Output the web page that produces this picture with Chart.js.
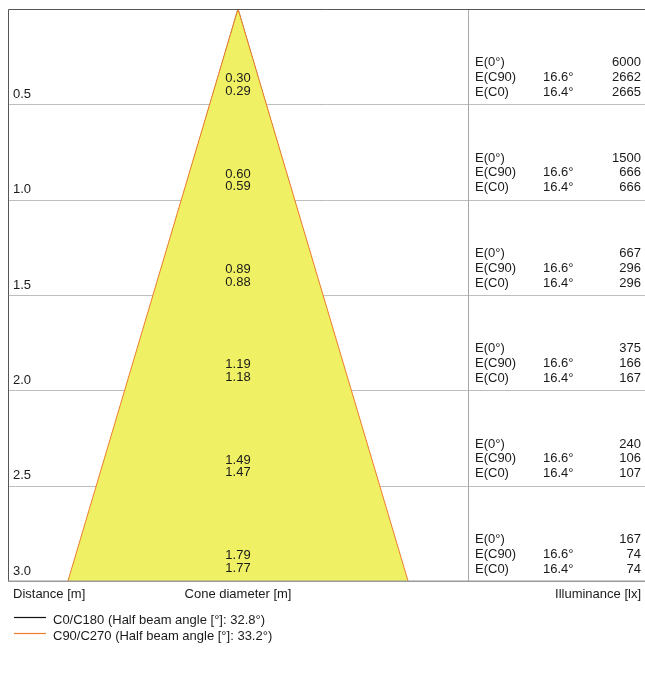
<!DOCTYPE html>
<html><head><meta charset="utf-8">
<script src="https://cdn.jsdelivr.net/npm/chart.js@4/dist/chart.umd.min.js"></script>
<style>html,body{margin:0;padding:0;background:#fff}canvas{display:block}</style>
</head><body>
<canvas id="c" width="645" height="677"></canvas>
<script>
const distances = [0.5, 1.0, 1.5, 2.0, 2.5, 3.0];
const diamC90 = ["0.30", "0.60", "0.89", "1.19", "1.49", "1.79"];
const diamC0 = ["0.29", "0.59", "0.88", "1.18", "1.47", "1.77"];
const e0 = ["6000", "1500", "667", "375", "240", "167"];
const eC90 = ["2662", "666", "296", "166", "106", "74"];
const eC0 = ["2665", "666", "296", "167", "107", "74"];
const angleC90 = "16.6°";
const angleC0 = "16.4°";
const maxDist = 3.0;
const halfC90 = 1.79 / 2;
const halfC0 = 1.77 / 2;
const legendLabels = ["C0/C180 (Half beam angle [°]: 32.8°)", "C90/C270 (Half beam angle [°]: 33.2°)"];

const FONT = '13px "Liberation Sans", Arial, sans-serif';
const YEL = '#eff064';
const ORANGE = '#ee7d2a';

const overlay = {
  id: 'overlay',
  beforeDatasetsDraw(chart) {
    const {ctx, scales: {x, y}} = chart;
    const L = x.getPixelForValue(x.min), R = x.getPixelForValue(x.max);
    const T = y.getPixelForValue(0), B = y.getPixelForValue(maxDist);
    const div = x.getPixelForValue(-x.min);
    ctx.save();
    ctx.lineWidth = 1;
    ctx.strokeStyle = '#bdbdbd';
    distances.forEach(d => {
      const py = Math.round(y.getPixelForValue(d)) + 0.5;
      ctx.beginPath(); ctx.moveTo(L, py); ctx.lineTo(R, py); ctx.stroke();
    });
    ctx.strokeStyle = '#a8a8a8';
    ctx.beginPath(); ctx.moveTo(Math.round(div)+0.5, T); ctx.lineTo(Math.round(div)+0.5, B); ctx.stroke();
    ctx.restore();
  },
  afterDatasetsDraw(chart) {
    const {ctx, scales: {x, y}} = chart;
    const L = x.getPixelForValue(x.min), R = x.getPixelForValue(x.max);
    const T = y.getPixelForValue(0), B = y.getPixelForValue(maxDist);
    const cx = x.getPixelForValue(0);
    const div = x.getPixelForValue(-x.min);
    ctx.save();
    ctx.lineWidth = 1;
    ctx.strokeStyle = '#555';
    ctx.beginPath(); ctx.moveTo(Math.round(L)+0.5, Math.round(B)); ctx.lineTo(Math.round(L)+0.5, Math.round(T)+0.5); ctx.lineTo(R, Math.round(T)+0.5); ctx.stroke();
    ctx.strokeStyle = '#999';
    ctx.lineWidth = 1.5;
    ctx.beginPath(); ctx.moveTo(L, Math.round(B)+0.25); ctx.lineTo(R, Math.round(B)+0.25); ctx.stroke();

    ctx.font = FONT;
    ctx.fillStyle = '#1a1a1a';
    ctx.textBaseline = 'middle';
    distances.forEach((d, i) => {
      const gy = y.getPixelForValue(d);
      ctx.textAlign = 'left';
      ctx.fillText(d.toFixed(1), L + 5, gy - 10);
      ctx.textAlign = 'center';
      ctx.fillText(diamC90[i], cx, gy - 25.5);
      ctx.fillText(diamC0[i], cx, gy - 13);
      ctx.textAlign = 'left';
      ctx.fillText('E(0°)', div + 7, gy - 41.5);
      ctx.fillText('E(C90)', div + 7, gy - 27);
      ctx.fillText('E(C0)', div + 7, gy - 12);
      ctx.fillText(angleC90, div + 75, gy - 27);
      ctx.fillText(angleC0, div + 75, gy - 12);
      ctx.textAlign = 'right';
      ctx.fillText(e0[i], R - 4, gy - 41.5);
      ctx.fillText(eC90[i], R - 4, gy - 27);
      ctx.fillText(eC0[i], R - 4, gy - 12);
    });
    const by = B + 13;
    ctx.textAlign = 'left';
    ctx.fillText('Distance [m]', L + 5, by);
    ctx.textAlign = 'center';
    ctx.fillText('Cone diameter [m]', cx, by);
    ctx.textAlign = 'right';
    ctx.fillText('Illuminance [lx]', R - 4, by);
    const cols = ['#111', ORANGE];
    legendLabels.forEach((t, i) => {
      const ly = B + 38 + i * 16;
      ctx.strokeStyle = cols[i];
      ctx.lineWidth = 1.2;
      ctx.beginPath(); ctx.moveTo(L + 6, Math.round(ly - 2) + 0.5); ctx.lineTo(L + 38, Math.round(ly - 2) + 0.5); ctx.stroke();
      ctx.textAlign = 'left';
      ctx.fillStyle = '#1a1a1a';
      ctx.fillText(t, L + 45, ly + 1);
    });
    ctx.restore();
  }
};

new Chart(document.getElementById('c'), {
  type: 'scatter',
  data: {
    datasets: [
      {
        label: 'C90/C270',
        data: [{x: -halfC90, y: maxDist}, {x: 0, y: 0}, {x: halfC90, y: maxDist}],
        showLine: true, borderColor: ORANGE, borderWidth: 1, backgroundColor: YEL,
        fill: 'shape', pointRadius: 0, tension: 0
      },
      {
        label: 'C0/C180',
        data: [{x: -halfC0, y: maxDist}, {x: 0, y: 0}, {x: halfC0, y: maxDist}],
        showLine: true, borderColor: '#555', borderWidth: 1, backgroundColor: YEL,
        fill: 'shape', pointRadius: 0, tension: 0
      }
    ]
  },
  options: {
    responsive: false,
    animation: false,
    events: [],
    layout: {padding: {left: 8, top: 9, right: 0, bottom: 96}},
    plugins: {legend: {display: false}, tooltip: {enabled: false}},
    scales: {
      x: {type: 'linear', min: -230/190, max: 407/190, display: false},
      y: {type: 'linear', min: 0, max: maxDist, reverse: true, display: false}
    }
  },
  plugins: [overlay]
});
</script>
</body></html>
